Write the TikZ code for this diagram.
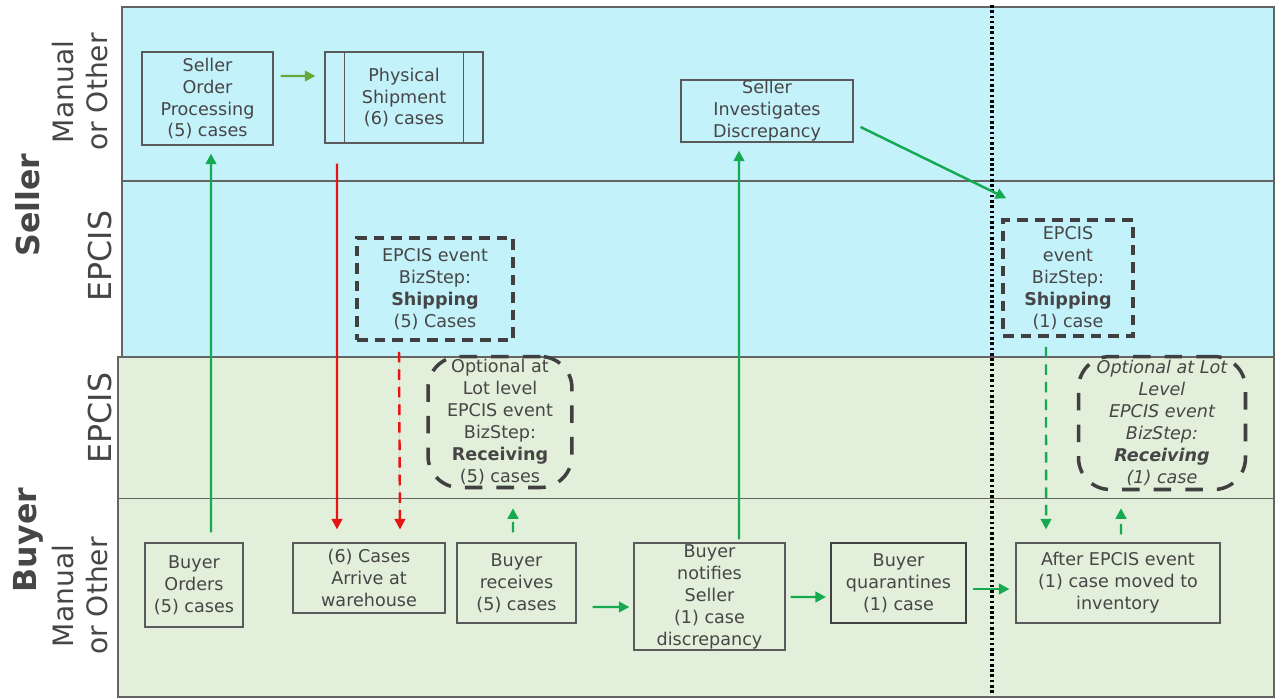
\documentclass[tikz,border=0pt]{standalone}
\usepackage{fontspec}
\setmainfont{DejaVu Sans}
\usetikzlibrary{arrows.meta}
\definecolor{sellerbg}{RGB}{196,242,251}
\definecolor{buyerbg}{RGB}{226,239,218}
\definecolor{laneline}{RGB}{100,100,100}
\definecolor{boxline}{RGB}{90,90,90}
\definecolor{evline}{RGB}{64,64,64}
\definecolor{txt}{RGB}{70,70,70}
\definecolor{flowgreen}{RGB}{22,170,80}
\definecolor{olivegreen}{RGB}{100,170,60}
\definecolor{flowred}{RGB}{230,20,20}
\newcommand\boxfont{\fontsize{10pt}{12.5pt}\selectfont}
\tikzset{
  lane/.style={draw=laneline,line width=0.8pt},
  lanelabel/.style={rotate=90,align=center,text=txt,font=\fontsize{16pt}{19.5pt}\selectfont},
  pbox/.style={draw=boxline,line width=0.7pt,align=center,text=txt,inner sep=1pt,font=\boxfont},
  evbox/.style={pbox,draw=evline,line width=2pt,dash pattern=on 6pt off 4pt},
  optbox/.style={evbox,rounded corners=18pt,dash pattern=on 10pt off 8pt},
  flow/.style={-{Triangle[length=6pt,width=6pt]},line width=1.4pt,draw=flowgreen},
  redflow/.style={flow,draw=flowred,fill=flowred},
  dflow/.style={flow,dash pattern=on 6pt off 4pt}
}
\begin{document}
\begin{tikzpicture}[x=0.02cm,y=-0.02cm]
\useasboundingbox (0,0) rectangle (1275,698);
\draw[lane,fill=sellerbg] (122,7) rectangle (1274,357);
\draw[lane,line width=1.2pt] (122,181) -- (1274,181);
\draw[lane,fill=buyerbg] (118,357) rectangle (1274,697);
\draw[lane,line width=0.5pt] (118,498) -- (1274,498);
\draw[line width=2pt,dash pattern=on 1.5pt off 1.5pt] (992,5) -- (992,695);

\node[lanelabel,font=\fontsize{18pt}{20pt}\selectfont\bfseries] (sellerlbl) at (28,205) {Seller};
\node[lanelabel] (sellerman) at (80,92) {Manual\\or Other};
\node[lanelabel,font=\fontsize{18pt}{20pt}\selectfont] (sellerep) at (100,256) {EPCIS};
\node[lanelabel,font=\fontsize{18pt}{20pt}\selectfont\bfseries] (buyerlbl) at (28,540) {Buyer};
\node[lanelabel,font=\fontsize{18pt}{20pt}\selectfont] (buyerep) at (100,418) {EPCIS};
\node[lanelabel] (buyerman) at (80,596) {Manual\\or Other};

\node[pbox,minimum width=2.62cm,minimum height=1.86cm] (sop) at (207.5,98.5) {Seller\\Order\\Processing\\(5) cases};
\node[pbox,minimum width=3.16cm,minimum height=1.82cm] (ship) at (404,97.5) {Physical\\Shipment\\(6) cases};
\draw[boxline,line width=0.7pt] ([xshift=0.4cm]ship.north west) -- ([xshift=0.4cm]ship.south west);
\draw[boxline,line width=0.7pt] ([xshift=-0.4cm]ship.north east) -- ([xshift=-0.4cm]ship.south east);
\node[pbox,inner ysep=0pt,minimum width=3.44cm,minimum height=1.24cm] (inv) at (767,111) {Seller\\Investigates\\Discrepancy};
\node[evbox,minimum width=3.12cm,minimum height=2.04cm] (shp5) at (435,289) {EPCIS event\\BizStep:\\\textbf{Shipping}\\(5) Cases};
\node[evbox,minimum width=2.6cm,minimum height=2.32cm] (shp1) at (1068,278) {EPCIS\\event\\BizStep:\\\textbf{Shipping}\\(1) case};
\node[optbox,inner ysep=0pt,minimum width=2.88cm,minimum height=2.62cm] (opt5) at (500,422) {Optional at\\Lot level\\EPCIS event\\BizStep:\\\textbf{Receiving}\\(5) cases};
\node[optbox,inner ysep=0pt,minimum width=3.34cm,minimum height=2.66cm,font=\boxfont\itshape] (opt1) at (1162,423) {Optional at Lot\\Level\\EPCIS event\\BizStep:\\\textbf{Receiving}\\(1) case};
\node[pbox,minimum width=1.96cm,minimum height=1.68cm] (bord) at (194,585) {Buyer\\Orders\\(5) cases};
\node[pbox,minimum width=3.04cm,minimum height=1.4cm] (arr) at (369,578) {(6) Cases\\Arrive at\\warehouse};
\node[pbox,minimum width=2.38cm,minimum height=1.6cm] (brec) at (516.5,583) {Buyer\\receives\\(5) cases};
\node[pbox,inner ysep=0pt,minimum width=3.02cm,minimum height=2.14cm] (bnot) at (709.5,596.5) {Buyer\\notifies\\Seller\\(1) case\\discrepancy};
\node[pbox,draw=evline,line width=1.2pt,minimum width=2.7cm,minimum height=1.6cm] (bqua) at (898.5,583) {Buyer\\quarantines\\(1) case};
\node[pbox,minimum width=4.08cm,minimum height=1.6cm] (after) at (1118,583) {After EPCIS event\\(1) case moved to\\inventory};

\draw[flow,draw=olivegreen] ([xshift=0.14cm,yshift=0.45cm]sop.east) -- ([xshift=-0.18cm,yshift=0.43cm]ship.west);
\draw[flow] ([xshift=0.34cm,yshift=0.2cm]bord.north) -- ([xshift=0.07cm,yshift=-0.16cm]sop.south);
\draw[redflow] ([xshift=-1.34cm,yshift=-0.4cm]ship.south) -- ([xshift=-0.64cm,yshift=0.26cm]arr.north);
\draw[redflow,dash pattern=on 6pt off 4pt] ([xshift=-0.72cm,yshift=-0.2cm]shp5.south) -- ([xshift=0.62cm,yshift=0.26cm]arr.north);
\draw[dflow] ([xshift=-0.07cm,yshift=0.2cm]brec.north) -- ([xshift=0.26cm,yshift=-0.38cm]opt5.south);
\draw[flow] ([xshift=0.32cm,yshift=-0.48cm]brec.east) -- ([xshift=-0.08cm,yshift=-0.21cm]bnot.west);
\draw[flow] ([xshift=0.59cm,yshift=0.06cm]bnot.north) -- ([xshift=-0.56cm,yshift=-0.16cm]inv.south);
\draw[flow] ([xshift=0.14cm,yshift=-0.32cm]inv.east) -- ([xshift=0.1cm,yshift=0.4cm]shp1.north west);
\draw[flow] ([xshift=0.1cm,yshift=-0.01cm]bnot.east) -- ([xshift=-0.08cm,yshift=-0.28cm]bqua.west);
\draw[flow] ([xshift=0.12cm,yshift=-0.12cm]bqua.east) -- ([xshift=-0.12cm,yshift=-0.12cm]after.west);
\draw[dflow] ([xshift=-0.44cm,yshift=-0.18cm]shp1.south) -- ([xshift=-1.44cm,yshift=0.26cm]after.north);
\draw[dflow] ([xshift=0.06cm,yshift=0.16cm]after.north) -- ([xshift=-0.82cm,yshift=-0.34cm]opt1.south);
\end{tikzpicture}
\end{document}
